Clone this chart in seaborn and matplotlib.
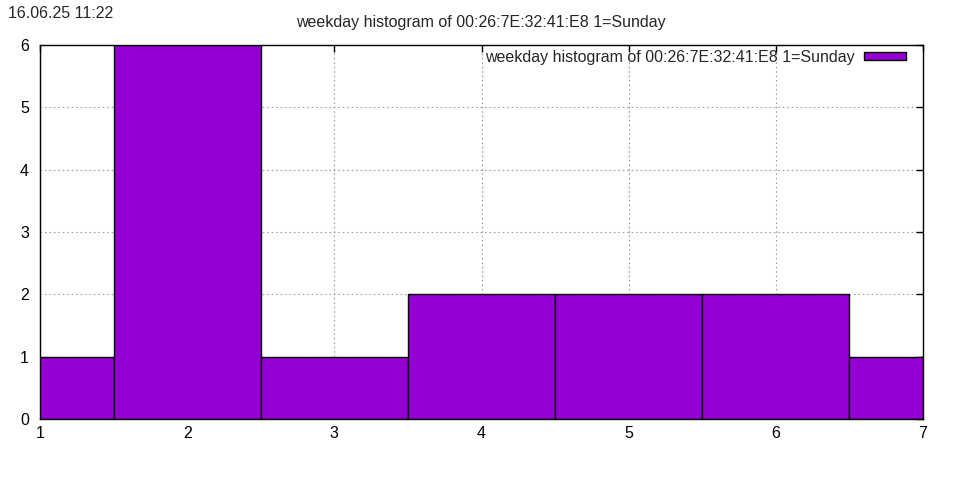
import matplotlib
matplotlib.use("Agg")
import matplotlib.pyplot as plt
import seaborn as sns
import pandas as pd
from matplotlib.patches import Patch

days = [1, 2, 3, 4, 5, 6, 7]
counts = [1, 6, 1, 2, 2, 2, 1]
xticks = [1, 2, 3, 4, 5, 6, 7]
yticks = [0, 1, 2, 3, 4, 5, 6]
title = "weekday histogram of 00:26:7E:32:41:E8 1=Sunday"
stamp = "16.06.25 11:22"
color = "#9400D3"

sns.set_style("white")
plt.rcParams['font.family'] = ['Liberation Sans', 'DejaVu Sans']
FS = 11.5

fig = plt.figure(figsize=(9.6, 4.8), dpi=100)
ax = fig.add_axes([40/960, 1-419/480, (923-40)/960, (419-45)/480])

df = pd.DataFrame({"day": days, "count": counts})
sns.barplot(data=df, x="day", y="count", native_scale=True, width=1.0,
            color=color, saturation=1, edgecolor="black", linewidth=1,
            ax=ax, zorder=2)

ax.set_xlim(1, 7)
ax.set_ylim(0, 6)
ax.set_xticks(xticks)
ax.set_yticks(yticks)
ax.set_xlabel("")
ax.set_ylabel("")
ax.grid(True, color="#a0a0a0", linestyle=(0, (1.5, 2.5)), linewidth=0.8, zorder=0)
ax.set_axisbelow(True)
for s in ax.spines.values():
    s.set_color("black")
    s.set_linewidth(1)
    s.set_zorder(5)
ax.tick_params(direction="in", length=5, width=1, top=True, right=True,
               labelsize=FS, colors="black")
ax.tick_params(axis="x", pad=5)
ax.tick_params(axis="y", pad=8)

handle = Patch(facecolor=color, edgecolor="black", linewidth=1)
leg = ax.legend([handle], [title], loc="upper right", markerfirst=False,
                frameon=False, fontsize=FS, handlelength=2.6, handleheight=0.4,
                borderaxespad=0.0, handletextpad=0.6, borderpad=0.0)
leg.set_bbox_to_anchor((906/960, 1 - 50/480), transform=fig.transFigure)

fig.text(296/960, 1-23/480, title, fontsize=FS, ha="left", va="center")
fig.text(8/960, 1-14/480, stamp, fontsize=FS, ha="left", va="center")

fig.savefig("out.png", dpi=100)
